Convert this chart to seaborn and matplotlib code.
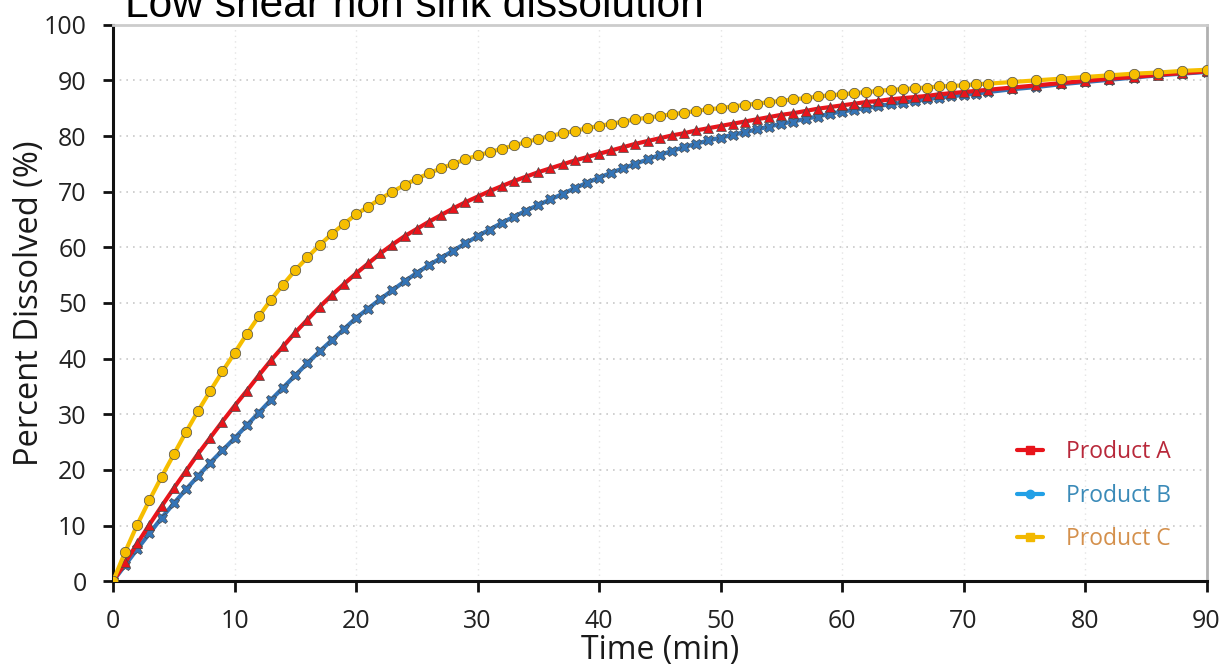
import numpy as np
import pandas as pd
import matplotlib
matplotlib.use("Agg")
import matplotlib.pyplot as plt
from matplotlib.lines import Line2D
from matplotlib.legend_handler import HandlerLine2D
import seaborn as sns

# ---------------- data ----------------
time_min = list(range(0, 73)) + [74, 76, 78, 80, 82, 84, 86, 88, 90]

product_a = [0.0, 3.4, 6.8, 10.2, 13.5, 16.7, 19.8, 22.9, 25.8, 28.7,
             31.5, 34.2, 37.0, 39.7, 42.2, 44.7, 47.0, 49.3, 51.4, 53.4,
             55.3, 57.1, 58.9, 60.5, 62.0, 63.3, 64.6, 65.8, 67.0, 68.1,
             69.1, 70.1, 71.0, 71.9, 72.7, 73.5, 74.2, 74.9, 75.6, 76.2,
             76.8, 77.4, 78.0, 78.6, 79.1, 79.6, 80.1, 80.5, 81.0, 81.4,
             81.8, 82.2, 82.6, 83.0, 83.4, 83.8, 84.1, 84.5, 84.9, 85.2,
             85.5, 85.8, 86.1, 86.3, 86.6, 86.8, 87.0, 87.2, 87.5, 87.7,
             87.9, 88.1, 88.3,
             88.7, 89.1, 89.5, 89.9, 90.3, 90.6, 91.0, 91.3, 91.6]

product_b = [0.0, 2.9, 5.8, 8.6, 11.4, 14.0, 16.5, 18.9, 21.3, 23.5,
             25.7, 28.0, 30.3, 32.6, 34.8, 37.0, 39.2, 41.3, 43.3, 45.3,
             47.3, 49.0, 50.7, 52.3, 53.9, 55.4, 56.8, 58.1, 59.4, 60.7,
             62.0, 63.2, 64.4, 65.5, 66.6, 67.6, 68.6, 69.6, 70.6, 71.6,
             72.5, 73.4, 74.2, 75.0, 75.8, 76.6, 77.3, 78.0, 78.6, 79.2,
             79.7, 80.2, 80.7, 81.2, 81.7, 82.2, 82.6, 83.1, 83.5, 84.0,
             84.4, 84.7, 85.0, 85.4, 85.7, 86.0, 86.3, 86.6, 86.9, 87.1,
             87.4, 87.6, 87.9,
             88.4, 88.8, 89.3, 89.7, 90.1, 90.5, 90.9, 91.2, 91.5]

product_c = [0.0, 5.3, 10.2, 14.6, 18.8, 22.8, 26.8, 30.6, 34.2, 37.7,
             41.0, 44.4, 47.6, 50.6, 53.3, 55.9, 58.2, 60.4, 62.4, 64.2,
             65.9, 67.3, 68.7, 70.0, 71.2, 72.3, 73.3, 74.2, 75.0, 75.8,
             76.5, 77.1, 77.7, 78.3, 78.9, 79.5, 80.0, 80.5, 80.9, 81.4,
             81.8, 82.2, 82.6, 83.0, 83.3, 83.6, 83.9, 84.2, 84.5, 84.8,
             85.0, 85.3, 85.6, 85.8, 86.1, 86.3, 86.6, 86.8, 87.1, 87.3,
             87.5, 87.7, 87.9, 88.1, 88.3, 88.4, 88.6, 88.7, 88.9, 89.0,
             89.1, 89.3, 89.4,
             89.7, 90.0, 90.3, 90.6, 90.9, 91.2, 91.4, 91.7, 91.9]

series_names = ["Product A", "Product B", "Product C"]
x_ticks = [0, 10, 20, 30, 40, 50, 60, 70, 80, 90]
y_ticks = [0, 10, 20, 30, 40, 50, 60, 70, 80, 90, 100]
title_text = "Low shear non sink dissolution"
x_label = "Time (min)"
y_label = "Percent Dissolved (%)"

# ---------------- styling ----------------
line_colors = {"Product A": "#E8141B", "Product B": "#3474B6", "Product C": "#F6BE00"}
legend_line_colors = {"Product A": "#E8141B", "Product B": "#22A0E6", "Product C": "#F2B800"}
legend_text_colors = {"Product A": "#B8283A", "Product B": "#3A8AB8", "Product C": "#D4904C"}
markers = {"Product A": "^", "Product B": "X", "Product C": "o"}
legend_markers = {"Product A": "s", "Product B": "o", "Product C": "s"}

df = pd.DataFrame({
    "Time": time_min * 3,
    "Percent": product_a + product_b + product_c,
    "Product": [series_names[0]] * len(time_min)
               + [series_names[1]] * len(time_min)
               + [series_names[2]] * len(time_min),
})

sns.set_theme(style="white")
plt.rcParams["font.family"] = ["Open Sans", "DejaVu Sans"]

fig = plt.figure(figsize=(12.26, 6.69), dpi=100)
ax = fig.add_axes([0.0922, 0.1311, 0.9841 - 0.0922, 0.9631 - 0.1311])

sns.lineplot(
    data=df, x="Time", y="Percent", hue="Product", style="Product",
    hue_order=["Product B", "Product A", "Product C"],
    style_order=["Product B", "Product A", "Product C"],
    palette=line_colors, markers=markers, dashes=False,
    linewidth=3.0, markersize=7.5, markeredgecolor="#4a4a4a",
    markeredgewidth=0.5, legend=False, ax=ax, zorder=3,
)

ax.set_xlim(0, 90)
ax.set_ylim(0, 100)
ax.set_xticks(x_ticks)
ax.set_yticks(y_ticks)
ax.set_xlabel(x_label, fontsize=23, labelpad=0, color="#1a1a1a")
ax.set_ylabel(y_label, fontsize=23.5, labelpad=-1.5, color="#1a1a1a")
ax.tick_params(axis="x", direction="out", length=8, width=2, color="#111111",
               labelsize=18, pad=12, labelcolor="#222222", bottom=True)
ax.tick_params(axis="y", direction="out", length=7, width=2, color="#111111",
               labelsize=18, pad=12, labelcolor="#222222", left=True)

ax.grid(True, axis="y", linestyle=(0, (1, 3)), color="#c8c8c8", linewidth=1.2, zorder=0)
ax.grid(True, axis="x", linestyle=(0, (1, 3)), color="#e4e4e4", linewidth=1.0, zorder=0)

for side in ["left", "bottom"]:
    ax.spines[side].set_color("#111111")
    ax.spines[side].set_linewidth(2.2)
ax.spines["top"].set_color("#cccccc")
ax.spines["top"].set_linewidth(2)
ax.spines["right"].set_color("#b0b0b0")
ax.spines["right"].set_linewidth(2)

# legend with marker at the right end of the handle
class EndMarkerHandler(HandlerLine2D):
    def get_xdata(self, legend, xdescent, ydescent, width, height, fontsize):
        xdata = [-xdescent, -xdescent + width]
        return xdata, [-xdescent + width * 0.85]

handles = [Line2D([], [], color=legend_line_colors[n], lw=3, marker=legend_markers[n],
                  markersize=6, markeredgecolor=legend_line_colors[n]) for n in series_names]
leg = fig.legend(handles, series_names, loc="upper left",
                 bbox_to_anchor=(0.8295, 0.342), frameon=False, fontsize=16.5,
                 handlelength=1.15, handletextpad=1.0, labelspacing=0.85,
                 borderpad=0, borderaxespad=0,
                 handler_map={Line2D: EndMarkerHandler(numpoints=1)})
for txt, n in zip(leg.get_texts(), series_names):
    txt.set_color(legend_text_colors[n])

fig.text(0.102, 1 - 17 / 669, title_text, fontsize=30.6, family="Liberation Sans",
         ha="left", va="baseline", color="black")

fig.savefig("out.png", dpi=100)
